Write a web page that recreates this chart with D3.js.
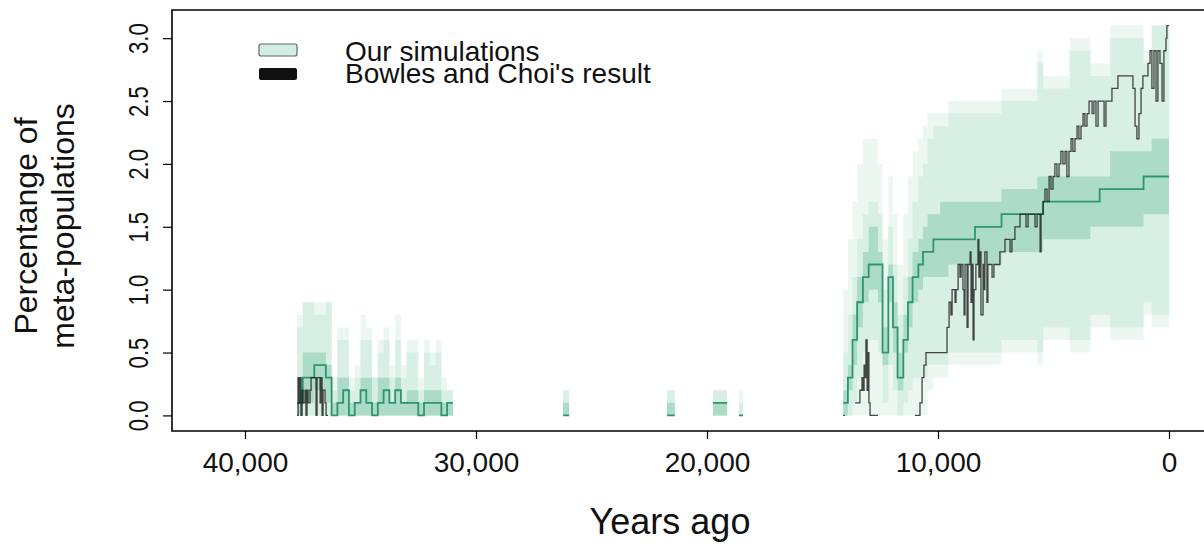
<!DOCTYPE html>
<html>
<head>
<meta charset="utf-8">
<script src="https://cdn.jsdelivr.net/npm/d3@7"></script>
<style>
  body { margin: 0; background: #fff; }
  svg { display: block; font-family: "Liberation Sans", Arial, sans-serif; }
</style>
</head>
<body>
<div id="chart"></div>
<script>
// simulation quantile bands, one row per step (step starts at simYears[i]); null = no data
const simYears = [
  37750, 37500, 37250, 37000, 36750, 36500, 36250, 36000, 35750, 35500, 35250, 35000, 34750, 34500,
  34250, 34000, 33750, 33500, 33250, 33000, 32750, 32500, 32250, 32000, 31750, 31500, 31250, 31000,
  26230, 25970, 21730, 21390, 19740, 19130, 18620, 18440,
  14100, 13900, 13700, 13500, 13250, 13000, 12800, 12600, 12400, 12150, 11950, 11750, 11500, 11300,
  11100, 10850, 10650, 10450, 10200, 9900, 9550, 9050, 8400, 7750, 7250, 6450, 5700, 5450, 4700,
  4300, 3400, 3000, 2550, 1900, 1100, 750, 0
];
const simMax = [
  0.8, 0.9, 0.9, 0.9, 0.9, 0.9, 0.3, 0.7, 0.7, 0.3, 0.4, 0.8, 0.7, 0.3,
  0.6, 0.7, 0.4, 0.8, 0.4, 0.6, 0.6, 0.3, 0.6, 0.5, 0.6, 0.3, 0.2, null,
  0.2, null, 0.2, null, 0.2, null, 0.2, null,
  1.0, 1.4, 1.7, 2.0, 2.2, 2.2, 2.2, 2.0, 1.4, 1.9, 1.6, 1.2, 1.6, 1.9,
  2.1, 2.2, 2.3, 2.4, 2.4, 2.4, 2.5, 2.5, 2.5, 2.5, 2.6, 2.6, 2.9, 2.7, 2.7,
  3.0, 2.8, 2.8, 3.1, 3.1, 2.9, 3.1, null
];
const simHi95 = [
  0.7, 0.9, 0.9, 0.8, 0.8, 0.9, 0.2, 0.6, 0.6, 0.2, 0.3, 0.6, 0.6, 0.3,
  0.5, 0.6, 0.3, 0.6, 0.3, 0.5, 0.5, 0.2, 0.5, 0.4, 0.5, 0.2, 0.2, null,
  0.2, null, 0.2, null, 0.2, null, 0.1, null,
  0.5, 0.8, 1.1, 1.4, 1.6, 1.7, 1.7, 1.6, 1.0, 1.5, 1.2, 0.8, 1.1, 1.4,
  1.7, 1.9, 2.0, 2.2, 2.3, 2.3, 2.4, 2.4, 2.4, 2.4, 2.5, 2.5, 2.8, 2.6, 2.6,
  2.9, 2.7, 2.7, 3.0, 3.0, 2.8, 3.1, null
];
const simLo95 = [
  0, 0, 0, 0, 0, 0, 0, 0, 0, 0, 0, 0, 0, 0,
  0, 0, 0, 0, 0, 0, 0, 0, 0, 0, 0, 0, 0, null,
  0, null, 0, null, 0, null, 0, null,
  0.0, 0.0, 0.1, 0.3, 0.5, 0.6, 0.6, 0.5, 0.1, 0.4, 0.2, 0.0, 0.1, 0.2,
  0.3, 0.3, 0.3, 0.4, 0.4, 0.4, 0.5, 0.5, 0.5, 0.5, 0.6, 0.6, 0.5, 0.7, 0.7,
  0.6, 0.8, 0.8, 0.7, 0.7, 0.9, 0.8, null
];
const simMin = [
  0, 0, 0, 0, 0, 0, 0, 0, 0, 0, 0, 0, 0, 0,
  0, 0, 0, 0, 0, 0, 0, 0, 0, 0, 0, 0, 0, null,
  0, null, 0, null, 0, null, 0, null,
  0, 0, 0, 0, 0, 0, 0, 0, 0, 0, 0, 0, 0, 0,
  0, 0, 0, 0.2, 0.3, 0.3, 0.4, 0.4, 0.4, 0.4, 0.5, 0.5, 0.4, 0.6, 0.6,
  0.5, 0.7, 0.7, 0.6, 0.6, 0.8, 0.7, null
];
const simHi50 = [
  0.3, 0.5, 0.5, 0.5, 0.5, 0.4, 0.1, 0.3, 0.3, 0.1, 0.1, 0.3, 0.3, 0.1,
  0.3, 0.3, 0.1, 0.3, 0.1, 0.2, 0.2, 0.1, 0.2, 0.2, 0.2, 0.1, 0.1, null,
  0.1, null, 0.1, null, 0.1, null, 0.0, null,
  0.2, 0.4, 0.8, 1.1, 1.3, 1.5, 1.5, 1.3, 0.7, 1.2, 0.9, 0.5, 0.8, 1.1,
  1.3, 1.4, 1.5, 1.6, 1.6, 1.7, 1.7, 1.7, 1.7, 1.7, 1.8, 1.8, 1.9, 1.9, 1.9,
  1.9, 1.9, 1.9, 2.1, 2.1, 2.1, 2.2, null
];
const simLo50 = [
  0, 0.1, 0.1, 0.2, 0.2, 0.1, 0, 0, 0, 0, 0, 0, 0, 0,
  0, 0, 0, 0, 0, 0, 0, 0, 0, 0, 0, 0, 0, null,
  0, null, 0, null, 0, null, 0, null,
  0.0, 0.2, 0.4, 0.7, 0.9, 1.0, 1.0, 0.9, 0.4, 0.9, 0.5, 0.2, 0.5, 0.7,
  0.9, 1.0, 1.1, 1.1, 1.1, 1.1, 1.2, 1.2, 1.2, 1.2, 1.3, 1.3, 1.3, 1.4, 1.4,
  1.4, 1.5, 1.5, 1.5, 1.5, 1.6, 1.6, null
];
const simMedian = [
  0.1, 0.3, 0.3, 0.4, 0.4, 0.3, 0.0, 0.1, 0.2, 0.0, 0.1, 0.2, 0.1, 0.0,
  0.1, 0.2, 0.1, 0.2, 0.1, 0.1, 0.1, 0.0, 0.1, 0.1, 0.1, 0.0, 0.1, null,
  0.0, null, 0.0, null, 0.1, null, 0.0, null,
  0.1, 0.3, 0.6, 0.9, 1.1, 1.2, 1.2, 1.2, 0.5, 1.1, 0.7, 0.3, 0.6, 0.9,
  1.1, 1.2, 1.3, 1.3, 1.4, 1.4, 1.4, 1.4, 1.5, 1.5, 1.6, 1.6, 1.6, 1.7, 1.7,
  1.7, 1.7, 1.8, 1.8, 1.8, 1.9, 1.9, null
];

// Bowles and Choi's series (step after), null = gap
const bcYears = [
  37750, 37700, 37660, 37620, 37575, 37530, 37490, 37400, 37360, 37315, 37270, 37185, 37140, 37055,
  36970, 36925, 36880, 36795, 36750, 36710, 36665, 36620, 36535, 36490, 36405, 36360,
  14110, 14030, 13990, 13590, 13510, 13380, 13290, 13250, 13200, 13160, 13120, 13070, 13030, 12990,
  12940, 12860, 12600, 12560,
  11000, 10870, 10780, 10690, 10610, 10520, 9650, 9610, 9520, 9440, 9390, 9260, 9220, 9130, 9050,
  9000, 8920, 8870, 8830, 8740, 8700, 8610, 8570, 8530, 8480, 8440, 8360, 8270, 8230, 8180, 8140,
  8050, 8010, 7970, 7880, 7840, 7750, 7660, 7580, 7490, 7400, 7320, 7190, 7100, 6970, 6880, 6800,
  6670, 6540, 6450, 6280, 6190, 6100, 5930, 5800, 5710, 5580, 5540, 5450, 5370, 5280, 5190, 5110,
  5020, 4940, 4850, 4760, 4680, 4590, 4500, 4420, 4330, 4240, 4160, 4070, 3980, 3900, 3810, 3720,
  3640, 3550, 3460, 3330, 3250, 3160, 3070, 2900, 2810, 2730, 2550, 2470, 2340, 2210, 2030, 1860,
  1690, 1560, 1470, 1390, 1300, 1210, 1130, 1000, 910, 820, 740, 650, 560, 480, 390, 300, 220,
  130, 90, 40, 0
];
const bcValues = [
  0.0, 0.3, 0.1, 0.3, 0.0, 0.2, 0.1, 0.2, 0.0, 0.2, 0.1, 0.2, 0.3, 0.3,
  0.3, 0.0, 0.3, 0.3, 0.1, 0.3, 0.0, 0.2, 0.1, 0.0, 0.0, null,
  0.0, 0.0, null, 0.1, 0.1, 0.2, 0.3, 0.2, 0.4, 0.3, 0.6, 0.2, 0.5, 0.1,
  0.0, 0.0, 0.0, null,
  0.0, 0.0, 0.1, 0.3, 0.4, 0.5, 0.5, 0.7, 0.9, 0.8, 1.0, 0.9, 1.0, 1.2, 1.1,
  1.2, 1.0, 0.8, 1.2, 0.7, 1.2, 1.3, 0.9, 1.2, 0.6, 1.0, 1.2, 1.4, 1.1, 1.3, 0.8,
  1.2, 1.0, 1.3, 0.9, 1.2, 1.2, 1.1, 1.2, 1.2, 1.2, 1.3, 1.3, 1.4, 1.4, 1.3, 1.4,
  1.5, 1.5, 1.6, 1.6, 1.5, 1.6, 1.6, 1.5, 1.6, 1.3, 1.6, 1.7, 1.8, 1.7, 1.9, 1.8,
  1.9, 2.0, 1.9, 2.0, 2.1, 2.0, 2.1, 1.9, 2.1, 2.2, 2.1, 2.2, 2.3, 2.2, 2.3, 2.4,
  2.3, 2.4, 2.5, 2.4, 2.5, 2.3, 2.5, 2.5, 2.3, 2.5, 2.5, 2.6, 2.6, 2.7, 2.7, 2.7,
  2.7, 2.6, 2.3, 2.2, 2.4, 2.6, 2.7, 2.7, 2.8, 2.9, 2.6, 2.9, 2.5, 2.9, 2.8, 2.5, 2.9,
  3.0, 3.1, 3.1, 3.1
];

const xTicks = [40000, 30000, 20000, 10000, 0];
const yTicks = [0, 0.5, 1, 1.5, 2, 2.5, 3];
const legendLabels = ["Our simulations", "Bowles and Choi's result"];

const width = 1204, height = 546;
const plot = { left: 172, top: 10, right: 1206, bottom: 431 };

const svg = d3.select("#chart").append("svg")
  .attr("width", width)
  .attr("height", height);

const x = d3.scaleLinear().domain([43160, -1602]).range([plot.left, plot.right]);
const y = d3.scaleLinear().domain([-0.124, 3.224]).range([plot.bottom, plot.top]);

svg.append("clipPath").attr("id", "clip")
  .append("rect")
  .attr("x", plot.left).attr("y", plot.top)
  .attr("width", plot.right - plot.left).attr("height", plot.bottom - plot.top);

const g = svg.append("g").attr("clip-path", "url(#clip)");

// rows -> points for step areas; each run gets a closing point at the next row's year
const rows = simYears.map((yr, i) => ({
  yr: yr, max: simMax[i], hi95: simHi95[i], lo95: simLo95[i], min: simMin[i],
  hi50: simHi50[i], lo50: simLo50[i], med: simMedian[i]
}));
const pts = [];
rows.forEach((r, i) => {
  pts.push(r);
  const next = rows[i + 1];
  if (r.hi95 != null && next && next.hi95 == null) {
    pts.push(Object.assign({}, r, { yr: next.yr }));
  }
});

function band(lo, hi) {
  return d3.area()
    .defined(d => d.hi95 != null)
    .curve(d3.curveStepAfter)
    .x(d => x(d.yr))
    .y0(d => y(d[lo]))
    .y1(d => y(d[hi]));
}

g.append("path").attr("d", band("min", "max")(pts)).attr("fill", "#ecf7f2");
g.append("path").attr("d", band("lo95", "hi95")(pts)).attr("fill", "#d8efe5");
g.append("path").attr("d", band("lo50", "hi50")(pts)).attr("fill", "#acdcc7");

g.append("path")
  .attr("d", d3.line()
    .defined(d => d.med != null)
    .curve(d3.curveStepAfter)
    .x(d => x(d.yr))
    .y(d => y(d.med))(pts))
  .attr("fill", "none")
  .attr("stroke", "#2e9570")
  .attr("stroke-width", 1.8);

// Bowles and Choi
const bc = bcYears.map((yr, i) => ({ yr: yr, v: bcValues[i] }));
g.append("path")
  .attr("d", d3.line()
    .defined(d => d.v != null)
    .curve(d3.curveStepAfter)
    .x(d => x(d.yr))
    .y(d => y(d.v))(bc))
  .attr("fill", "none")
  .attr("stroke", "#1a1a1a")
  .attr("stroke-opacity", 0.8)
  .attr("stroke-width", 1.3);

// box
svg.append("path")
  .attr("d", `M${plot.right},${plot.top}H${plot.left}V${plot.bottom}H${plot.right}`)
  .attr("fill", "none")
  .attr("stroke", "#000")
  .attr("stroke-width", 1.6);

// x axis
const xAxis = svg.append("g")
  .attr("transform", `translate(0,${plot.bottom})`)
  .call(d3.axisBottom(x).tickValues(xTicks).tickFormat(d3.format(",")).tickSize(8).tickPadding(13));
xAxis.select(".domain").remove();
xAxis.selectAll("line").attr("stroke", "#000").attr("stroke-width", 1.2);
xAxis.selectAll("text").attr("font-size", 28).attr("fill", "#111").attr("font-family", "Liberation Sans");

// y axis
const yAxis = svg.append("g")
  .attr("transform", `translate(${plot.left},0)`)
  .call(d3.axisLeft(y).tickValues(yTicks).tickFormat(d3.format(".1f")).tickSize(9));
yAxis.select(".domain").remove();
yAxis.selectAll("line").attr("stroke", "#000").attr("stroke-width", 1.2);
yAxis.selectAll("text")
  .attr("x", null).attr("dy", null)
  .attr("text-anchor", "middle")
  .attr("font-size", 27)
  .attr("fill", "#111")
  .attr("font-family", "Liberation Sans")
  .attr("transform", "translate(-24,0) rotate(-90) scale(0.82,1)");

// axis titles
svg.append("text")
  .attr("x", 670).attr("y", 534)
  .attr("text-anchor", "middle")
  .attr("font-size", 36)
  .attr("fill", "#111")
  .text("Years ago");

const yTitle = svg.append("g").attr("transform", "translate(0,226) rotate(-90)");
yTitle.append("text").attr("x", 0).attr("y", 37).attr("text-anchor", "middle")
  .attr("font-size", 32).attr("fill", "#111").text("Percentange of");
yTitle.append("text").attr("x", 0).attr("y", 74).attr("text-anchor", "middle")
  .attr("font-size", 32).attr("fill", "#111").text("meta-populations");

// legend
const legend = svg.append("g");
legend.append("rect")
  .attr("x", 259).attr("y", 44).attr("width", 38).attr("height", 12).attr("rx", 2)
  .attr("fill", "#cfeee1").attr("stroke", "#666").attr("stroke-width", 1.2);
legend.append("rect")
  .attr("x", 259).attr("y", 68).attr("width", 38).attr("height", 12).attr("rx", 2)
  .attr("fill", "#111");
legend.selectAll("text.lab").data(legendLabels).enter().append("text")
  .attr("class", "lab")
  .attr("x", 345)
  .attr("y", (d, i) => 61 + i * 22)
  .attr("font-size", 28)
  .attr("fill", "#111")
  .text(d => d);
</script>
</body>
</html>
